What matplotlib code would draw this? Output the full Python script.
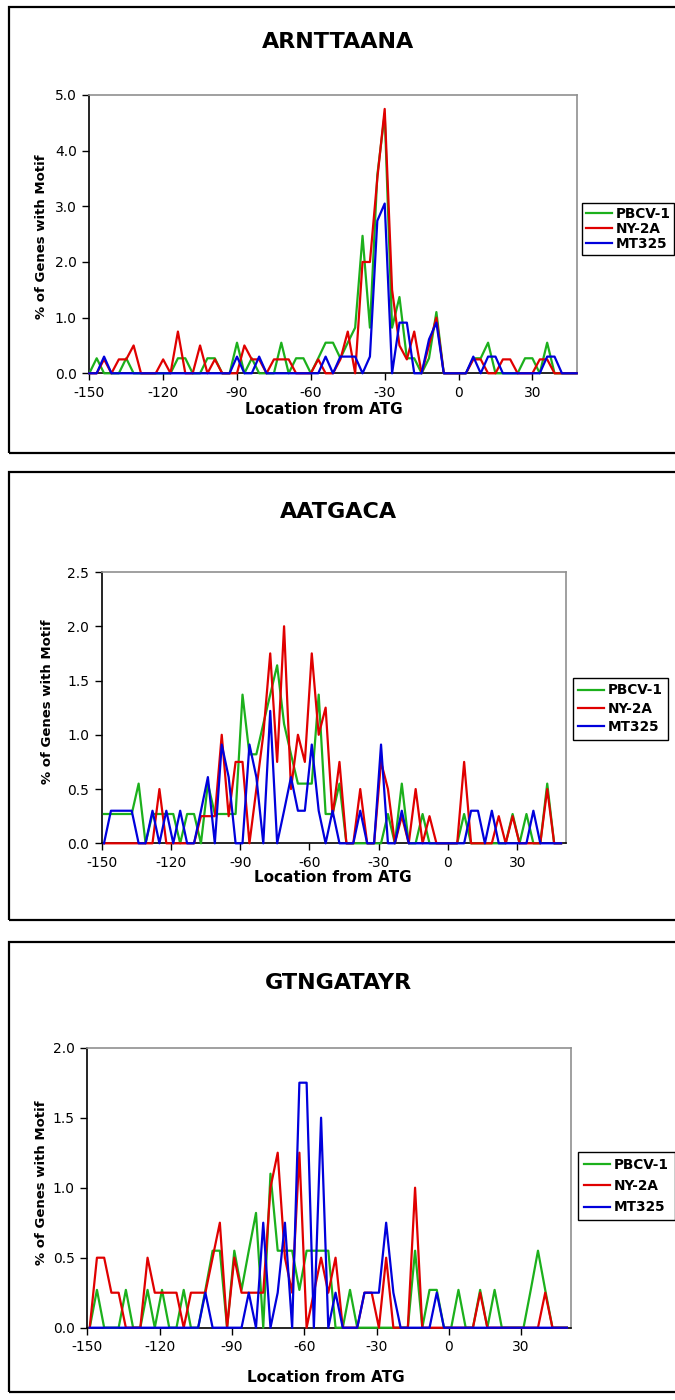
import matplotlib
matplotlib.use("Agg")
import matplotlib.pyplot as plt
from matplotlib.patches import Rectangle

W, H = 675, 1400

series_names = ["PBCV-1", "NY-2A", "MT325"]
xtick_vals = [-150, -120, -90, -60, -30, 0, 30]

# ARNTTAANA
arn_x = list(range(-150, 49, 3))
arn_pbcv = [0, 0.27, 0, 0, 0, 0.27, 0, 0, 0, 0, 0, 0, 0.27, 0.27, 0, 0, 0.27, 0.27, 0, 0,
            0.55, 0, 0.27, 0, 0, 0, 0.55, 0, 0.27, 0.27, 0, 0.27, 0.55, 0.55, 0.27, 0.55, 0.82, 2.47, 0.82, 3.56,
            4.66, 0.82, 1.37, 0.27, 0.27, 0, 0.27, 1.10, 0, 0, 0, 0, 0.27, 0.27, 0.55, 0, 0, 0, 0, 0.27,
            0.27, 0, 0.55, 0, 0, 0, 0]
arn_ny2a = [0, 0, 0.25, 0, 0.25, 0.25, 0.5, 0, 0, 0, 0.25, 0, 0.75, 0, 0, 0.5, 0, 0.25, 0, 0,
            0, 0.5, 0.25, 0.25, 0, 0.25, 0.25, 0.25, 0, 0, 0, 0.25, 0, 0, 0.25, 0.75, 0, 2.0, 2.0, 3.5,
            4.75, 1.5, 0.5, 0.25, 0.75, 0, 0.5, 1.0, 0, 0, 0, 0, 0.25, 0.25, 0, 0, 0.25, 0.25, 0, 0,
            0, 0.25, 0.25, 0, 0, 0, 0]
arn_mt325 = [0, 0, 0.3, 0, 0, 0, 0, 0, 0, 0, 0, 0, 0, 0, 0, 0, 0, 0, 0, 0,
             0.3, 0, 0, 0.3, 0, 0, 0, 0, 0, 0, 0, 0, 0.3, 0, 0.3, 0.3, 0.3, 0, 0.3, 2.74,
             3.05, 0, 0.91, 0.91, 0, 0, 0.61, 0.91, 0, 0, 0, 0, 0.3, 0, 0.3, 0.3, 0, 0, 0, 0,
             0, 0, 0.3, 0.3, 0, 0, 0]

# AATGACA
aat_x = list(range(-149, 50, 3))
aat_pbcv = [0.27, 0.27, 0.27, 0.27, 0.27, 0.55, 0, 0.27, 0.27, 0.27, 0.27, 0, 0.27, 0.27, 0, 0.55, 0.27, 0.27, 0.27, 0.27,
            1.37, 0.82, 0.82, 1.10, 1.37, 1.64, 1.10, 0.82, 0.55, 0.55, 0.55, 1.37, 0.27, 0.27, 0.55, 0, 0, 0, 0, 0,
            0, 0.27, 0, 0.55, 0, 0, 0.27, 0, 0, 0, 0, 0, 0.27, 0, 0, 0, 0, 0, 0, 0.27,
            0, 0.27, 0, 0, 0.55, 0, 0]
aat_ny2a = [0, 0, 0, 0, 0, 0, 0, 0, 0.5, 0, 0, 0, 0, 0, 0.25, 0.25, 0.25, 1.0, 0.25, 0.75,
            0.75, 0, 0.5, 1.0, 1.75, 0.75, 2.0, 0.5, 1.0, 0.75, 1.75, 1.0, 1.25, 0.25, 0.75, 0, 0, 0.5, 0, 0,
            0.75, 0.5, 0, 0.25, 0, 0.5, 0, 0.25, 0, 0, 0, 0, 0.75, 0, 0, 0, 0, 0.25, 0, 0.25,
            0, 0, 0, 0, 0.5, 0, 0]
aat_mt325 = [0, 0.3, 0.3, 0.3, 0.3, 0, 0, 0.3, 0, 0.3, 0, 0.3, 0, 0, 0.3, 0.61, 0, 0.91, 0.61, 0,
             0, 0.91, 0.61, 0, 1.22, 0, 0.3, 0.61, 0.3, 0.3, 0.91, 0.3, 0, 0.3, 0, 0, 0, 0.3, 0, 0,
             0.91, 0, 0, 0.3, 0, 0, 0, 0, 0, 0, 0, 0, 0, 0.3, 0.3, 0, 0.3, 0, 0, 0,
             0, 0, 0.3, 0, 0, 0, 0]

# GTNGATAYR
gtn_x = list(range(-149, 50, 3))
gtn_pbcv = [0, 0.27, 0, 0, 0, 0.27, 0, 0, 0.27, 0, 0.27, 0, 0, 0.27, 0, 0, 0.27, 0.55, 0.55, 0,
            0.55, 0.27, 0.55, 0.82, 0, 1.10, 0.55, 0.55, 0.55, 0.27, 0.55, 0.55, 0.55, 0.55, 0, 0, 0.27, 0, 0, 0,
            0, 0, 0, 0, 0, 0.55, 0, 0.27, 0.27, 0, 0, 0.27, 0, 0, 0.27, 0, 0.27, 0, 0, 0,
            0, 0.27, 0.55, 0.27, 0, 0, 0]
gtn_ny2a = [0, 0.5, 0.5, 0.25, 0.25, 0, 0, 0, 0.5, 0.25, 0.25, 0.25, 0.25, 0, 0.25, 0.25, 0.25, 0.5, 0.75, 0,
            0.5, 0.25, 0.25, 0.25, 0.25, 1.0, 1.25, 0.5, 0.25, 1.25, 0, 0.25, 0.5, 0.25, 0.5, 0, 0, 0, 0.25, 0.25,
            0, 0.5, 0, 0, 0, 1.0, 0, 0, 0, 0, 0, 0, 0, 0, 0.25, 0, 0, 0, 0, 0,
            0, 0, 0, 0.25, 0, 0, 0]
gtn_mt325 = [0, 0, 0, 0, 0, 0, 0, 0, 0, 0, 0, 0, 0, 0, 0, 0, 0.25, 0, 0, 0,
             0, 0, 0.25, 0, 0.75, 0, 0.25, 0.75, 0, 1.75, 1.75, 0, 1.5, 0, 0.25, 0, 0, 0, 0.25, 0.25,
             0.25, 0.75, 0.25, 0, 0, 0, 0, 0, 0.25, 0, 0, 0, 0, 0, 0, 0, 0, 0, 0, 0,
             0, 0, 0, 0, 0, 0, 0]

colors = ["#1cb01c", "#e00000", "#0000dc"]


def rect(left, top, right, bottom):
    return [left / W, 1 - bottom / H, (right - left) / W, (bottom - top) / H]


def panel(fig, box, area, title, title_y, x, ys, xlim, ymax, ystep,
          xlabel_pos, ylabel_pos, leg_pos, leg_space, leg_pad):
    top, bottom = box
    fig.patches.append(Rectangle((9 / W, 1 - bottom / H), 700 / W, (bottom - top) / H,
                                 transform=fig.transFigure, fill=False, ec="black", lw=1.6))
    fig.text(338 / W, 1 - title_y / H, title, ha="center", va="center",
             fontsize=16, fontweight="bold")

    ax = fig.add_axes(rect(*area))
    lines = []
    for y, c, name in zip(ys, colors, series_names):
        ln, = ax.plot(x, y, color=c, lw=1.6, label=name, clip_on=False, zorder=3)
        lines.append(ln)
    ax.set_xlim(*xlim)
    ax.set_ylim(0, ymax)
    ax.set_xticks(xtick_vals)
    ax.set_xticklabels([str(v) for v in xtick_vals], fontsize=10)
    n = int(round(ymax / ystep))
    yt = [ystep * k for k in range(n + 1)]
    ax.set_yticks(yt)
    ax.set_yticklabels(["%.1f" % v for v in yt], fontsize=10)
    ax.tick_params(axis="y", direction="out", length=5, width=1, pad=4)
    ax.tick_params(axis="x", direction="out", length=5, width=1, pad=4)
    for s in ["left", "bottom"]:
        ax.spines[s].set_color("black")
        ax.spines[s].set_linewidth(1.2)
    for s in ["top", "right"]:
        ax.spines[s].set_color("#909090")
        ax.spines[s].set_linewidth(1.2)

    fig.text(xlabel_pos[0] / W, 1 - xlabel_pos[1] / H, "Location from ATG",
             ha="center", va="center", fontsize=11, fontweight="bold")
    fig.text(ylabel_pos[0] / W, 1 - ylabel_pos[1] / H, "% of Genes with Motif",
             ha="center", va="center", rotation=90, fontsize=9.5, fontweight="bold")

    fig.legend(handles=lines, loc="upper left",
               bbox_to_anchor=(leg_pos[0] / W, 1 - leg_pos[1] / H),
               prop={"weight": "bold", "size": 9.8}, frameon=True, fancybox=False,
               edgecolor="black", framealpha=1, borderpad=leg_pad, labelspacing=leg_space,
               handlelength=1.9, handletextpad=0.25, borderaxespad=0)
    return ax


fig = plt.figure(figsize=(W / 100, H / 100), dpi=100)
fig.patch.set_facecolor("white")

panel(fig, (7, 453), (89.3, 95, 576.7, 373.3), "ARNTTAANA", 42,
      arn_x, [arn_pbcv, arn_ny2a, arn_mt325], (-150, 48), 5.0, 1.0,
      (324, 409), (42, 237), (582, 203), 0.08, 0.3)

panel(fig, (472, 920), (101.7, 572, 565.7, 843.3), "AATGACA", 512,
      aat_x, [aat_pbcv, aat_ny2a, aat_mt325], (-150, 51), 2.5, 0.5,
      (333, 878), (48, 702), (573, 678), 0.32, 0.4)

panel(fig, (942, 1392), (87.3, 1047.7, 571, 1327.7), "GTNGATAYR", 983,
      gtn_x, [gtn_pbcv, gtn_ny2a, gtn_mt325], (-150, 50.7), 2.0, 0.5,
      (326, 1377), (42, 1183), (578, 1152), 0.52, 0.45)

fig.savefig("out.png", dpi=100)
